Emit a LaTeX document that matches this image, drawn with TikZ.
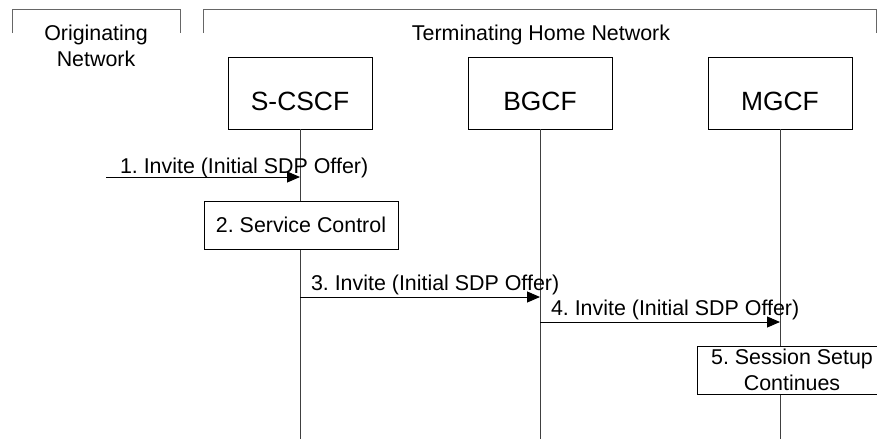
\documentclass[tikz,border=0pt]{standalone}
\usepackage{fontspec}
\setmainfont{Liberation Sans}
\usetikzlibrary{arrows.meta}
\frenchspacing
\begin{document}
\begin{tikzpicture}[x=1pt,y=-1pt,
  every node/.style={inner sep=0pt, outer sep=0pt},
  lbl/.style={font=\fontsize{21.4}{25.5}\selectfont},
  big/.style={font=\fontsize{26.4}{30}\selectfont},
  ent/.style={draw=black, fill=white, line width=1pt, minimum width=144pt, minimum height=72pt, text height=34pt, text depth=0pt},
  life/.style={draw=black!75, line width=1pt},
  brk/.style={draw=black!60, line width=1pt},
  msg/.style={draw=black, line width=1pt, -{Triangle[length=13pt,width=11pt]}}]
\useasboundingbox (0,0) rectangle (877,439);

% network brackets
\draw[brk] (12,33) -- (12,9) -- (180,9) -- (180,33);
\draw[brk] (203,33) -- (203,9) -- (876,9) -- (876,33);
\node[lbl, anchor=base, align=center] (orig) at (96,66) {Originating\\Network};
\node[lbl, anchor=base] (term) at (541,40) {Terminating Home Network};

% entities
\node[ent, big] (scscf) at (300,93) {S-CSCF};
\node[ent, big] (bgcf) at (540,93) {BGCF};
\node[ent, big] (mgcf) at (780,93) {MGCF};

% lifelines
\coordinate (bottom) at (0,439);
\draw[life] (scscf.south) -- (scscf.south |- bottom);
\draw[life] (bgcf.south) -- (bgcf.south |- bottom);
\draw[life] (mgcf.south) -- (mgcf.south |- bottom);

% 1
\coordinate (m1) at (106,177);
\draw[msg] (m1) -- (m1 -| scscf.south);
\node[lbl, anchor=base west] (l1) at (120,173) {1. Invite (Initial SDP Offer)};

% 2
\node[draw=black, fill=white, line width=1pt, lbl, minimum width=194pt, minimum height=48pt, text height=14pt, text depth=0pt] (svc) at (301,225) {2. Service Control};

% 3
\coordinate (m3) at (0,297);
\draw[msg] (scscf.south |- m3) -- (bgcf.south |- m3);
\node[lbl, anchor=base west] (l3) at (311,290) {3. Invite (Initial SDP Offer)};

% 4
\coordinate (m4) at (0,322);
\draw[msg] (bgcf.south |- m4) -- (mgcf.south |- m4);
\node[lbl, anchor=base west] (l4) at (551,315) {4. Invite (Initial SDP Offer)};

% 5
\node[draw=black, fill=white, line width=1pt, minimum width=190pt, minimum height=48pt] (setup) at (792,370) {};
\node[lbl, anchor=base, align=center] (setuptxt) at (792,390) {5. Session Setup\\Continues};
\end{tikzpicture}
\end{document}
